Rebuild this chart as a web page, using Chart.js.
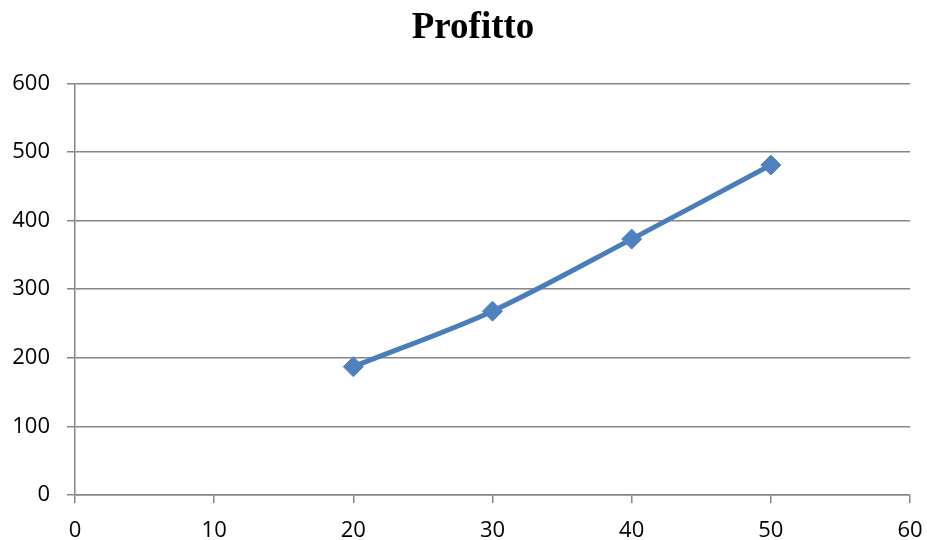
<!DOCTYPE html>
<html>
<head>
<meta charset="utf-8">
<title>Profitto</title>
<script src="https://cdn.jsdelivr.net/npm/chart.js@4/dist/chart.umd.min.js"></script>
<style>
  html, body { margin: 0; padding: 0; background: #fff; }
  #wrap { width: 927px; height: 540px; }
</style>
</head>
<body>
<div id="wrap"><canvas id="profitChart"></canvas></div>
<script>
// quantities and the profit they give
const quantities = [20, 30, 40, 50];
const profitValues = [187, 268, 373, 481];

const xTicks = [0, 10, 20, 30, 40, 50, 60];
const yTicks = [0, 100, 200, 300, 400, 500, 600];

const gridGray = '#868686';
const seriesBlue = '#4A7EBB';

const points = quantities.map((q, i) => ({ x: q, y: profitValues[i] }));

// nudge the title block so its centre sits a bit right of the canvas middle
const titleShift = {
  id: 'titleShift',
  afterLayout(chart) {
    if (chart.titleBlock) chart.titleBlock.left = 19;
  }
};

const ctx = document.getElementById('profitChart').getContext('2d');
const profitChart = new Chart(ctx, {
  type: 'line',
  data: {
    datasets: [{
      label: 'Profitto',
      data: points,
      borderColor: seriesBlue,
      backgroundColor: '#4F81BD',
      borderWidth: 5,
      tension: 0.3,
      pointStyle: 'rectRot',
      pointRadius: 10,
      pointBorderWidth: 1,
      pointBorderColor: '#4F81BD',
      pointBackgroundColor: '#4F81BD'
    }]
  },
  options: {
    responsive: true,
    maintainAspectRatio: false,
    animation: false,
    layout: { padding: 0 },
    plugins: {
      legend: { display: false },
      tooltip: { enabled: false },
      title: {
        display: true,
        text: 'Profitto',
        color: '#000',
        font: { family: '"Liberation Serif", "Times New Roman", serif', size: 37, weight: 'bold', lineHeight: 1.2 },
        padding: { top: 6, bottom: 33 }
      }
    },
    scales: {
      x: {
        type: 'linear',
        min: 0,
        max: 60,
        afterBuildTicks: scale => { scale.ticks = xTicks.map(v => ({ value: v })); },
        afterFit: scale => { scale.height = 45; scale.paddingRight = 17; },
        border: { display: true, color: gridGray, width: 1.5 },
        grid: { drawOnChartArea: false, drawTicks: true, tickLength: 8, color: gridGray, lineWidth: 1.5 },
        ticks: {
          color: '#000',
          font: { family: '"Open Sans", sans-serif', size: 22 },
          padding: 15,
          maxRotation: 0
        }
      },
      y: {
        min: 0,
        max: 600,
        afterBuildTicks: scale => { scale.ticks = yTicks.map(v => ({ value: v })); },
        afterFit: scale => { scale.width = 75; },
        border: { display: true, color: gridGray, width: 1.5 },
        grid: { color: gridGray, lineWidth: 1.5, tickLength: 8 },
        ticks: {
          color: '#000',
          font: { family: '"Open Sans", sans-serif', size: 22 },
          padding: 17
        }
      }
    }
  },
  plugins: [titleShift]
});
</script>
</body>
</html>
